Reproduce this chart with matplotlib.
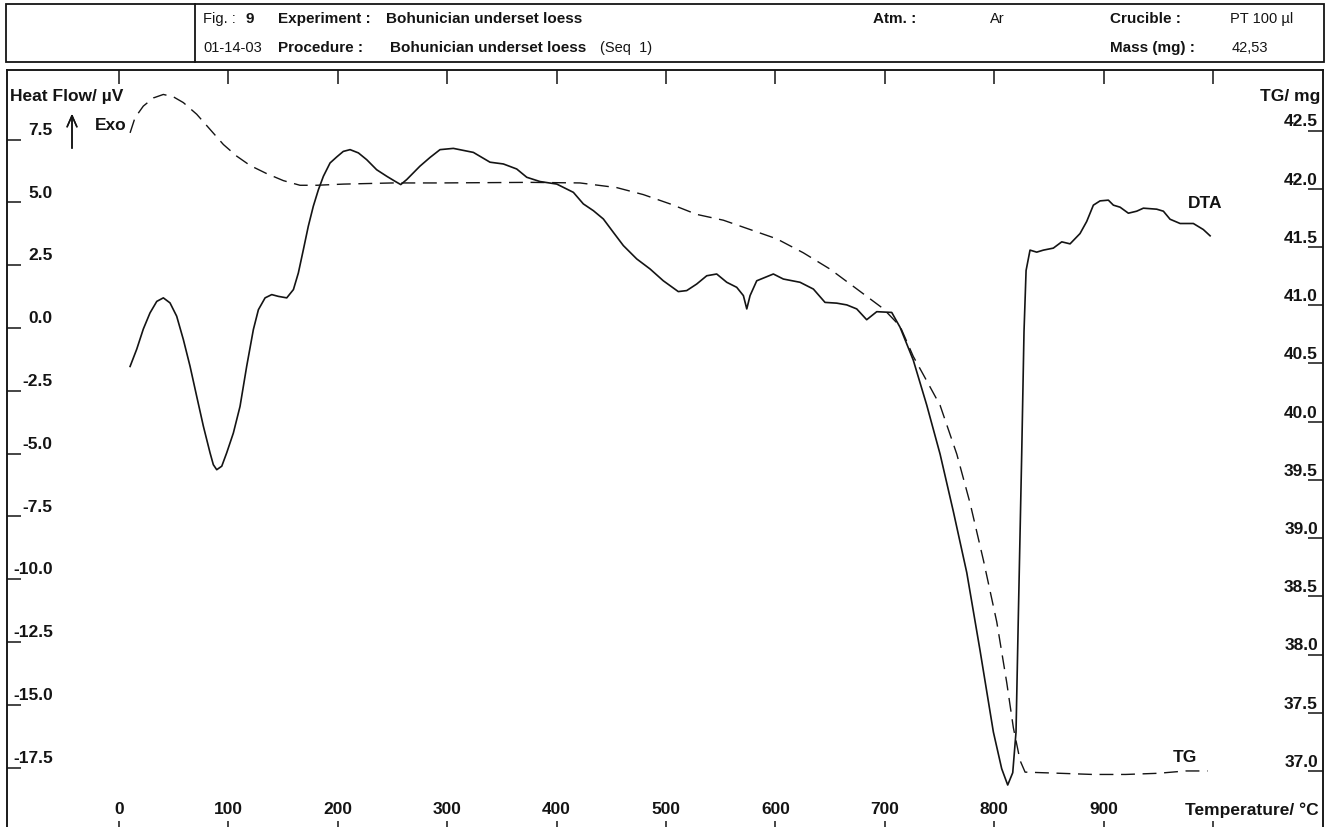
import matplotlib
matplotlib.use("Agg")
import matplotlib.pyplot as plt
import matplotlib.transforms as mtransforms
from matplotlib.patches import Rectangle
from matplotlib.lines import Line2D

plt.rcParams['font.family'] = ['Liberation Sans', 'DejaVu Sans']

# DTA curve (left axis, µV)
dta_temp = [10.1, 16.2, 22.2, 28.3, 34.5, 40.5, 46.6, 52.7, 58.8, 64.9, 71.0, 77.1, 83.2,
            86.2, 89.3, 93.9, 98.4, 104.5, 110.6, 116.7, 122.8, 127.4, 133.5, 139.6,
            145.6, 153.3, 159.4, 163.9, 168.5, 173.0, 177.6, 182.2, 186.8, 192.9, 199.0,
            205.0, 211.2, 218.8, 226.4, 235.5, 244.7, 252.3, 257.5, 263.0, 275.0, 284.3,
            293.4, 305.6, 323.9, 339.1, 351.3, 363.5, 372.7, 384.8, 400.1, 415.3, 424.4,
            433.6, 442.7, 451.8, 461.0, 473.2, 485.4, 497.5, 511.2, 518.9, 528.0, 537.2,
            546.3, 555.5, 564.6, 570.7, 573.8, 576.8, 582.9, 598.1, 607.2, 622.5, 634.7,
            645.3, 656.0, 665.2, 674.3, 683.4, 692.6, 706.3, 713.9, 726.0, 738.3, 750.5,
            762.6, 774.9, 787.0, 799.2, 806.8, 812.3, 816.9, 819.9, 822.0, 825.1, 827.2,
            829.1, 832.7, 838.8, 844.9, 854.0, 861.7, 869.3, 878.4, 884.5, 890.6, 896.7,
            904.3, 908.9, 915.0, 922.6, 930.2, 936.3, 948.5, 954.6, 960.7, 969.9, 982.0,
            991.1, 997.3]
dta_val = [-1.53, -0.84, -0.04, 0.60, 1.06, 1.20, 1.00, 0.47, -0.46, -1.52, -2.72, -3.91,
           -4.97, -5.44, -5.64, -5.50, -4.97, -4.18, -3.12, -1.52, -0.06, 0.73, 1.20, 1.33,
           1.26, 1.20, 1.53, 2.19, 3.12, 4.05, 4.85, 5.50, 6.04, 6.57, 6.81, 7.03, 7.10,
           6.97, 6.70, 6.30, 6.04, 5.84, 5.71, 5.91, 6.44, 6.79, 7.10, 7.15, 6.99, 6.60,
           6.53, 6.33, 6.00, 5.83, 5.73, 5.40, 4.94, 4.67, 4.34, 3.81, 3.28, 2.75, 2.35,
           1.88, 1.45, 1.49, 1.75, 2.08, 2.15, 1.82, 1.62, 1.29, 0.76, 1.29, 1.88, 2.15,
           1.95, 1.82, 1.55, 1.02, 0.99, 0.92, 0.76, 0.33, 0.65, 0.62, 0.03, -1.28, -3.07,
           -5.02, -7.30, -9.74, -12.83, -16.08, -17.54, -18.19, -17.70, -16.08, -11.52,
           -5.02, -0.15, 2.29, 3.10, 3.02, 3.10, 3.18, 3.43, 3.35, 3.76, 4.24, 4.89, 5.06,
           5.09, 4.89, 4.81, 4.57, 4.65, 4.77, 4.73, 4.65, 4.33, 4.16, 4.16, 3.92, 3.67]

# TG curve (right axis, mg)
tg_temp = [10.1, 14.6, 22.2, 31.4, 40.5, 49.6, 58.8, 71.0, 83.2, 95.4, 107.6, 119.8, 135.0,
           150.2, 165.4, 180.7, 205.0, 250.0, 293.0, 375.7, 421.4, 454.9, 479.2, 503.7,
           528.0, 552.4, 576.8, 601.2, 625.5, 649.9, 674.3, 698.6, 713.9, 726.0, 738.3,
           750.5, 765.8, 777.9, 790.1, 802.3, 811.4, 817.5, 823.6, 828.2, 860.0, 890.0,
           920.0, 950.0, 975.0, 995.0]
tg_val = [42.48, 42.61, 42.71, 42.78, 42.81, 42.79, 42.74, 42.64, 42.51, 42.38, 42.28,
          42.20, 42.13, 42.07, 42.03, 42.03, 42.04, 42.05, 42.05, 42.055, 42.05, 42.01,
          41.95, 41.87, 41.78, 41.73, 41.65, 41.57, 41.45, 41.31, 41.14, 40.97, 40.82,
          40.56, 40.35, 40.14, 39.72, 39.30, 38.81, 38.28, 37.76, 37.37, 37.09, 36.99,
          36.98, 36.97, 36.97, 36.98, 37.0, 37.0]

x_ticks = [0, 100, 200, 300, 400, 500, 600, 700, 800, 900, 1000]
x_labels = ['0', '100', '200', '300', '400', '500', '600', '700', '800', '900', 'Temperature/ °C']
left_ticks = [7.5, 5.0, 2.5, 0.0, -2.5, -5.0, -7.5, -10.0, -12.5, -15.0, -17.5]
right_ticks = [42.5, 42.0, 41.5, 41.0, 40.5, 40.0, 39.5, 39.0, 38.5, 38.0, 37.5, 37.0]

W, H = 1334, 828
INK = '#141414'
fig = plt.figure(figsize=(W / 100, H / 100), dpi=100)


def fx(px):
    return px / W


def fy(py):
    return 1 - py / H


# main frame: left 7 px, right 1323 px, top 71 px, bottom a bit below the page
ax = fig.add_axes([fx(7), fy(836), fx(1323) - fx(7), fy(71) - fy(836)])
ax2 = ax.twinx()

ax.plot(dta_temp, dta_val, color=INK, lw=1.2, solid_joinstyle='round')
ax2.plot(tg_temp, tg_val, color=INK, lw=1.0, ls=(0, (10, 5.5)))

ax.set_xlim(-102.4, 1100.5)
ax.set_ylim(-20.18, 10.27)
ax2.set_ylim(36.45, 43.02)

for a in (ax, ax2):
    for s in a.spines.values():
        s.set_linewidth(1.1)
        s.set_color(INK)

ax.set_xticks(x_ticks)
ax.tick_params(axis='x', direction='in', top=True, bottom=True, length=10, width=1.1,
               color=INK, labelbottom=False)
ax.set_yticks(left_ticks)
ax.tick_params(axis='y', direction='in', length=10, width=1.1, color=INK, labelleft=False)
ax2.set_yticks(right_ticks)
ax2.tick_params(axis='y', direction='in', length=11, width=1.1, color=INK, labelright=False)

tick_font = dict(fontsize=12.5, fontweight='bold', color=INK)

for v in left_ticks:
    ax.annotate(f'{v:.1f}', xy=(0, v), xycoords=('axes fraction', 'data'),
                xytext=(33, 2), textcoords='offset points', ha='right', va='bottom',
                **tick_font)
for v in right_ticks:
    ax2.annotate(f'{v:.1f}', xy=(1, v), xycoords=('axes fraction', 'data'),
                 xytext=(-3.6, 1.5), textcoords='offset points', ha='right', va='bottom',
                 **tick_font)

xt = mtransforms.blended_transform_factory(ax.transData, fig.transFigure)
for t, lbl in zip(x_ticks, x_labels):
    if t == 1000:
        fig.text(fx(1319), fy(810), lbl, ha='right', va='center', **tick_font)
    else:
        ax.text(t, fy(810), lbl, transform=xt, ha='center', va='center', **tick_font)

# axis titles and curve names
fig.text(fx(10), fy(97), 'Heat Flow/ µV', ha='left', va='center', **tick_font)
fig.text(fx(1320), fy(97), 'TG/ mg', ha='right', va='center', **tick_font)
fig.text(fx(95), fy(125), 'Exo', ha='left', va='center', **tick_font)
fig.text(fx(1188), fy(203), 'DTA', ha='left', va='center', **tick_font)
fig.text(fx(1173), fy(758), 'TG', ha='left', va='center', **tick_font)
fig.add_artist(plt.annotate('', xy=(fx(72), fy(112)), xycoords='figure fraction',
                            xytext=(fx(72), fy(152)), textcoords='figure fraction',
                            arrowprops=dict(arrowstyle='->,head_length=0.8,head_width=0.35',
                                            color=INK, lw=1.1)))

# header box
fig.add_artist(Rectangle((fx(6), fy(63)), fx(1324) - fx(6), fy(5) - fy(63),
                         transform=fig.transFigure, fill=False, lw=1.3, edgecolor=INK))
fig.add_artist(Line2D([fx(195), fx(195)], [fy(63), fy(5)], transform=fig.transFigure,
                      lw=1.3, color=INK))

hb = dict(fontsize=11, fontweight='bold', color=INK, va='center', ha='left')
hr = dict(fontsize=10.5, color=INK, va='center', ha='left')
r1, r2 = fy(19), fy(48)
fig.text(fx(203), r1, 'Fig. :', **hr)
fig.text(fx(246), r1, '9', **hb)
fig.text(fx(278), r1, 'Experiment :', **hb)
fig.text(fx(386), r1, 'Bohunician underset loess', **hb)
fig.text(fx(873), r1, 'Atm. :', **hb)
fig.text(fx(990), r1, 'Ar', **hr)
fig.text(fx(1110), r1, 'Crucible :', **hb)
fig.text(fx(1230), r1, 'PT 100 µl', **hr)
fig.text(fx(203), r2, '01-14-03', **hr)
fig.text(fx(278), r2, 'Procedure :', **hb)
fig.text(fx(390), r2, 'Bohunician underset loess', **hb)
fig.text(fx(600), r2, '(Seq  1)', **hr)
fig.text(fx(1110), r2, 'Mass (mg) :', **hb)
fig.text(fx(1232), r2, '42,53', **hr)

fig.savefig('out.png', dpi=100)
